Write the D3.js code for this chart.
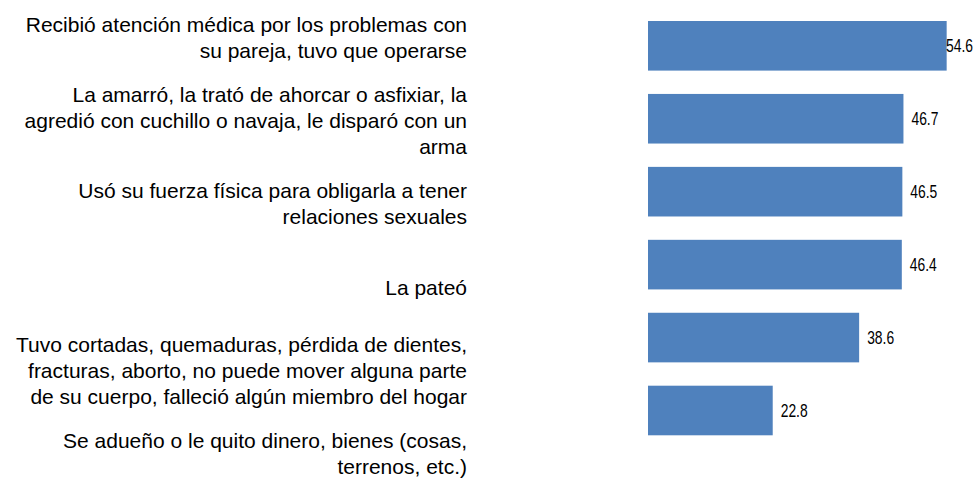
<!DOCTYPE html>
<html>
<head>
<meta charset="utf-8">
<script src="https://cdn.jsdelivr.net/npm/d3@7"></script>
<style>
  body { margin: 0; background: #fff; }
  svg { display: block; }
</style>
</head>
<body>
<div id="chart"></div>
<script>
const categories = [
    ['Recibió atención médica por los problemas con', 'su pareja, tuvo que operarse'],
    ['La amarró, la trató de ahorcar o asfixiar, la', 'agredió con cuchillo o navaja, le disparó con un', 'arma'],
    ['Usó su fuerza física para obligarla a tener', 'relaciones sexuales'],
    ['La pateó'],
    ['Tuvo cortadas, quemaduras, pérdida de dientes,', 'fracturas, aborto, no puede mover alguna parte', 'de su cuerpo, falleció algún miembro del hogar'],
    ['Se adueño o le quito dinero, bienes (cosas,', 'terrenos, etc.)']
]
const values = [54.6, 46.7, 46.5, 46.4, 38.6, 22.8]

const width = 974
const height = 481
const lineHeight = 26

const svg = d3.select('#chart')
    .append('svg')
    .attr('width', width)
    .attr('height', height)

const keys = categories.map((d, i) => i)

const x = d3.scaleLinear()
    .domain([0, 60])
    .range([648, 648 + 5.47 * 60])

const y = d3.scaleBand()
    .domain(keys)
    .range([21, 435.3])
    .paddingInner(0.32)
    .paddingOuter(0)

// the category labels sit on their own spacing, not on the bars
const labelY = d3.scalePoint()
    .domain(keys)
    .range([38, 454])

svg.append('g')
    .selectAll('rect')
    .data(values)
    .join('rect')
    .attr('x', x(0))
    .attr('y', (d, i) => y(i))
    .attr('width', d => x(d) - x(0))
    .attr('height', y.bandwidth())
    .attr('fill', '#4f81bd')

const labels = svg.append('g')
    .attr('font-family', 'Liberation Sans, Arial, sans-serif')
    .attr('font-size', '21px')
    .attr('fill', '#000')
    .attr('text-anchor', 'end')

categories.forEach((lines, i) => {
    const top = labelY(i) - (lines.length - 1) * lineHeight / 2
    const t = labels.append('text')
    lines.forEach((line, j) => {
        t.append('tspan')
            .attr('x', 467)
            .attr('y', top + j * lineHeight)
            .attr('dy', '0.33em')
            .text(line)
    })
})

// value labels, narrow type like the original
const valueWidth = 27
svg.append('g')
    .selectAll('text')
    .data(values)
    .join('text')
    .attr('transform', (d, i) => {
        const tx = Math.min(x(d) + 8, width - 1 - valueWidth)
        return `translate(${tx}, ${y(i) + y.bandwidth() / 2 + 6}) scale(0.77, 1)`
    })
    .attr('font-family', 'Liberation Sans, Arial, sans-serif')
    .attr('font-size', '18px')
    .attr('fill', '#000')
    .text(d => d.toFixed(1))
</script>
</body>
</html>
